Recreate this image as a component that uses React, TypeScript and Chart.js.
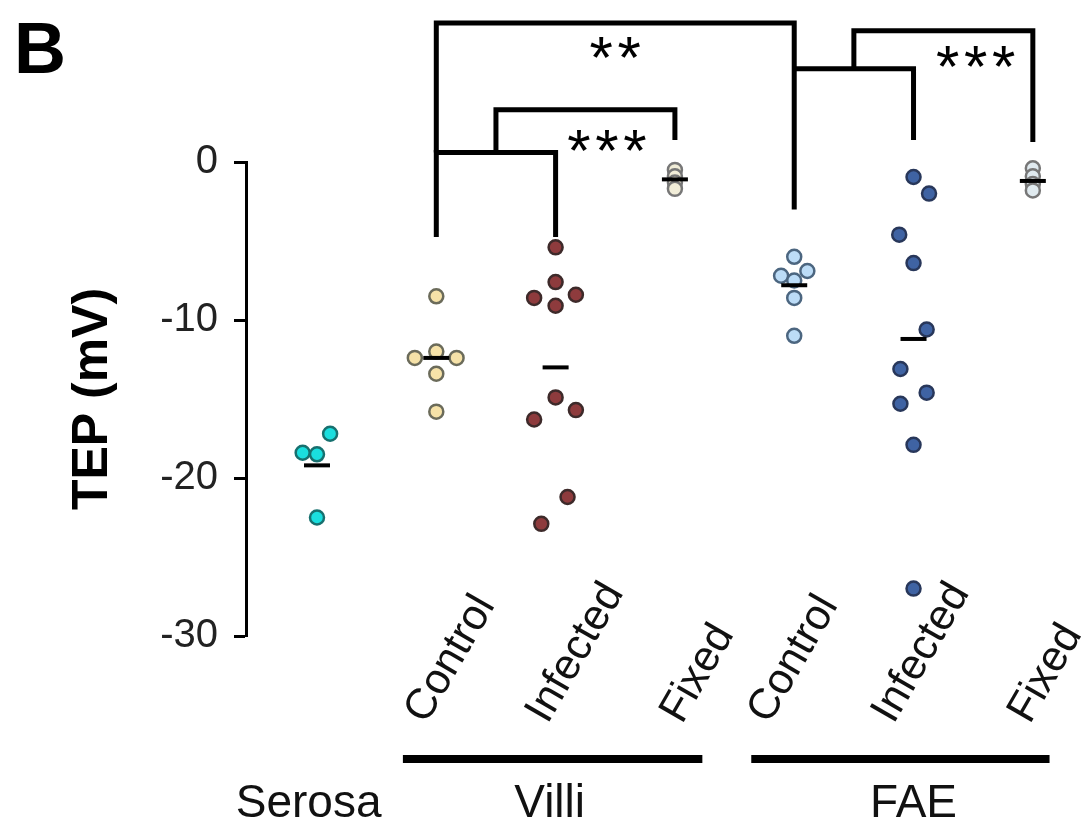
import React, { useEffect, useRef } from 'react';
import { Chart, registerables } from 'chart.js';

Chart.register(...registerables);

// ---- data ----
const categoryLabels = ['', 'Control', 'Infected', 'Fixed', 'Control', 'Infected', 'Fixed'];
const groupLabels = ['Serosa', 'Villi', 'FAE'];
const yTicks = [0, -10, -20, -30];

const serosa = [-17.2, -18.4, -18.5, -22.5];
const serosaJitter = [0.11, -0.12, 0, 0];
const villiControl = [-8.5, -12.0, -12.4, -12.4, -13.4, -15.8];
const villiControlJitter = [0, 0, -0.18, 0.17, 0, 0];
const villiInfected = [-5.4, -7.6, -8.6, -8.4, -9.1, -14.9, -16.3, -15.7, -21.2, -22.9];
const villiInfectedJitter = [0, 0, -0.18, 0.17, 0, 0, -0.18, 0.17, 0.1, -0.12];
const villiFixed = [-0.5, -0.9, -1.3, -1.7];
const villiFixedJitter = [0, 0, 0, 0];
const faeControl = [-6.0, -7.2, -6.9, -7.5, -8.6, -11.0];
const faeControlJitter = [0, -0.11, 0.11, 0, 0, 0];
const faeInfected = [-0.95, -2.0, -4.6, -6.4, -10.6, -13.1, -14.6, -15.3, -17.9, -27.0];
const faeInfectedJitter = [0, 0.13, -0.12, 0, 0.11, -0.11, 0.11, -0.11, 0, 0];
const faeFixed = [-0.4, -0.9, -1.4, -1.8];
const faeFixedJitter = [0, 0, 0, 0];

const groupMeans = [-19.2, -12.4, -13.0, -1.1, -7.8, -11.2, -1.2];

const significance = ['***', '**', '***'];

const fillColors = ['#1adede', '#f6e2a8', '#8e3b3d', '#f1edd8', '#bcdcf7', '#3f63a3', '#e0eaef'];
const edgeColors = ['#17706f', '#6b6b5a', '#3d2a2a', '#777777', '#4c6680', '#28375a', '#777777'];

const seriesValues = [serosa, villiControl, villiInfected, villiFixed, faeControl, faeInfected, faeFixed];
const seriesJitter = [serosaJitter, villiControlJitter, villiInfectedJitter, villiFixedJitter, faeControlJitter, faeInfectedJitter, faeFixedJitter];

const FONT = "'Liberation Sans', Arial, sans-serif";

const annotations = {
  id: 'annotations',
  afterDraw(chart: any) {
    const ctx = chart.ctx;
    const x = chart.scales.x;
    const y = chart.scales.y;
    const px = (v: number) => x.getPixelForValue(v);
    const py = (v: number) => y.getPixelForValue(v);
    ctx.save();

    // panel letter
    ctx.fillStyle = '#000';
    ctx.font = `bold 72px ${FONT}`;
    ctx.textAlign = 'left';
    ctx.textBaseline = 'alphabetic';
    ctx.fillText('B', 14, 73);

    // y title
    ctx.save();
    ctx.translate(93, (chart.chartArea.top + chart.chartArea.bottom) / 2);
    ctx.rotate(-Math.PI / 2);
    ctx.font = `bold 50px ${FONT}`;
    ctx.textAlign = 'center';
    ctx.textBaseline = 'middle';
    ctx.fillText('TEP (mV)', 0, 0);
    ctx.restore();

    // brackets
    ctx.strokeStyle = '#000';
    ctx.lineWidth = 5;
    ctx.lineCap = 'butt';
    ctx.lineJoin = 'miter';
    const poly = (pts: number[][]) => {
      ctx.beginPath();
      pts.forEach((p, i) => (i ? ctx.lineTo(px(p[0]), py(p[1])) : ctx.moveTo(px(p[0]), py(p[1]))));
      ctx.stroke();
    };
    poly([[1, -4.75], [1, 0.6], [2, 0.6], [2, -4.75]]);
    poly([[1.5, 0.6], [1.5, 3.3], [3, 3.3], [3, 1.4]]);
    poly([[1, 0.6], [1, 8.8], [4, 8.8], [4, -3.0]]);
    poly([[4, 5.9], [5, 5.9], [5, 1.4]]);
    poly([[4.5, 5.9], [4.5, 8.3], [6, 8.3], [6, 1.27]]);

    // asterisks
    ctx.font = `60px ${FONT}`;
    ctx.textAlign = 'center';
    ctx.textBaseline = 'alphabetic';
    const m = ctx.measureText('*');
    const off = (m.actualBoundingBoxAscent - m.actualBoundingBoxDescent) / 2;
    const stars = (s: string, cx: number, cy: number) => {
      const n = s.length;
      for (let i = 0; i < n; i++) {
        ctx.fillText('*', cx + (i - (n - 1) / 2) * 28, cy + off);
      }
    };
    stars(significance[0], px(2.43), 140);
    stars(significance[1], px(2.5), 47);
    stars(significance[2], px(5.52), 56);

    // rotated category labels
    const labelOffsets = [0, -10, -8, 7, -25, -20, -3];
    ctx.fillStyle = '#111';
    ctx.font = `43px ${FONT}`;
    ctx.textAlign = 'left';
    ctx.textBaseline = 'alphabetic';
    for (let i = 1; i < categoryLabels.length; i++) {
      ctx.save();
      ctx.translate(px(i) + labelOffsets[i], 725);
      ctx.rotate((-60 * Math.PI) / 180);
      ctx.fillText(categoryLabels[i], 0, 0);
      ctx.restore();
    }

    // group lines
    ctx.fillStyle = '#000';
    ctx.fillRect(px(0.72), 755, px(3.23) - px(0.72), 8);
    ctx.fillRect(px(3.64), 755, px(6.14) - px(3.64), 8);

    // group labels
    ctx.fillStyle = '#111';
    ctx.font = `46px ${FONT}`;
    ctx.textAlign = 'center';
    ctx.fillText(groupLabels[0], px(-0.07), 817);
    ctx.fillText(groupLabels[1], px(1.95), 817);
    ctx.fillText(groupLabels[2], px(5.0), 817);

    ctx.restore();
  },
};

export default function App() {
  const ref = useRef<HTMLCanvasElement | null>(null);
  useEffect(() => {
    document.body.style.margin = '0';
    document.body.style.overflow = 'hidden';
    const canvas = ref.current!;
    const datasets: any[] = seriesValues.map((vals, g) => ({
      label: `g${g}`,
      data: vals.map((v, i) => ({ x: g + seriesJitter[g][i], y: v })),
      backgroundColor: fillColors[g],
      borderColor: edgeColors[g],
      borderWidth: 2.5,
      pointRadius: 7,
      clip: false,
      order: 1,
    }));
    datasets.push({
      label: 'mean',
      data: groupMeans.map((v, g) => ({ x: g, y: v })),
      pointStyle: 'line',
      pointRadius: 13,
      borderWidth: 4,
      borderColor: '#000',
      backgroundColor: '#000',
      clip: false,
      order: 0,
    });
    const chart = new Chart(canvas, {
      type: 'scatter',
      data: { datasets },
      options: {
        animation: false,
        responsive: false,
        devicePixelRatio: 1,
        layout: { padding: { top: 162, bottom: 189, left: 0, right: 0 } },
        plugins: { legend: { display: false }, tooltip: { enabled: false } },
        scales: {
          x: { type: 'linear', min: -0.595, max: 6.345, display: false },
          y: {
            type: 'linear',
            min: -30,
            max: 0,
            afterFit: (s: any) => { s.width = 246; },
            afterBuildTicks: (s: any) => { s.ticks = yTicks.map((v) => ({ value: v })); },
            ticks: { font: { family: FONT, size: 40 }, color: '#222', padding: 16 },
            grid: { display: true, drawOnChartArea: false, tickLength: 12, tickWidth: 3, tickColor: '#000' },
            border: { display: true, color: '#000', width: 3 },
          },
        },
      },
      plugins: [annotations],
    });
    return () => chart.destroy();
  }, []);
  return (
    <div style={{ width: 1091, height: 825 }}>
      <canvas ref={ref} width={1091} height={825} style={{ display: 'block', width: 1091, height: 825 }} />
    </div>
  );
}
